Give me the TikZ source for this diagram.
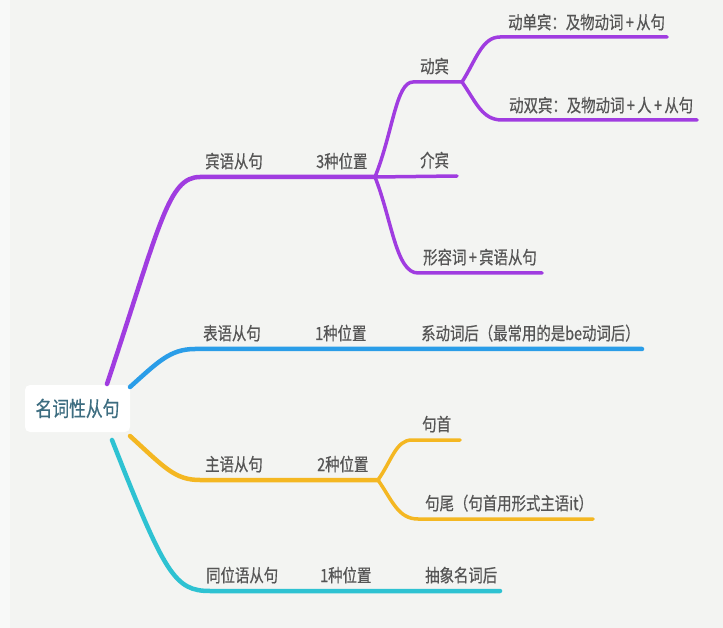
\documentclass[tikz,border=0pt]{standalone}
\usepackage{fontspec}
\newfontfamily\cjk{Noto Sans CJK SC}[FakeBold=0.6]
\definecolor{bgc}{HTML}{F3F4F2}
\definecolor{bgl}{HTML}{F8F9F8}
\definecolor{purp}{HTML}{A03CE0}
\definecolor{blu}{HTML}{2A9DE8}
\definecolor{org}{HTML}{F4B722}
\definecolor{cya}{HTML}{2EC2D2}
\definecolor{txt}{HTML}{555555}
\definecolor{roottxt}{HTML}{3D6D80}
\newcommand\sqz[1]{\scalebox{0.8}[1]{#1}}
\tikzset{
  lbl/.style={font=\cjk\fontsize{18}{21}\selectfont, text=txt, inner sep=0pt, anchor=base west},
  mainline/.style={line width=4.5pt, line cap=round},
  subline/.style={line width=3.5pt, line cap=round},
}
\begin{document}
\begin{tikzpicture}[x=1pt,y=-1pt]
\useasboundingbox (0,0) rectangle (723,628);
\fill[bgc] (0,0) rectangle (723,628);
\fill[bgl] (0,0) rectangle (10,628);

% root
\node[fill=white, rounded corners=5pt, minimum width=105pt, minimum height=47pt, inner sep=0pt,
      font=\cjk\fontsize{21}{25}\selectfont, text=roottxt] (root) at (77.5,408.5) {\sqz{名词性从句}};

% coordinates
\coordinate (pS) at (107,384);
\coordinate (pA) at (200,177);
\coordinate (pJ) at (375,177);
\coordinate (dbS) at (413,82);
\coordinate (dbJ) at (462,82);
\coordinate (d1S) at (500,37);
\coordinate (d1E) at (667,37);
\coordinate (d2S) at (502,120);
\coordinate (d2E) at (697,120);
\coordinate (jbE) at (457,176);
\coordinate (xrS) at (418,273);
\coordinate (xrE) at (542,273);

\coordinate (bS) at (130,387);
\coordinate (bA) at (195,349);
\coordinate (bE) at (642,349);

\coordinate (oS) at (130,436);
\coordinate (oA) at (200,480);
\coordinate (oJ) at (378,480);
\coordinate (jsS) at (412,440);
\coordinate (jsE) at (460,440);
\coordinate (jwS) at (418,519);
\coordinate (jwE) at (593,519);

\coordinate (cS) at (112,440);
\coordinate (cA) at (210,591);
\coordinate (cE) at (500,591);

% purple
\draw[mainline, purp] (pS) .. controls (160,225) and (168,177) .. (pA) -- (pJ);
\draw[subline, purp] (pJ) .. controls (393,132) and (396,82) .. (dbS) -- (dbJ);
\draw[subline, purp] (dbJ) .. controls (476,60) and (482,37) .. (d1S) -- (d1E);
\draw[subline, purp] (dbJ) .. controls (476,102) and (482,120) .. (d2S) -- (d2E);
\draw[subline, purp] (pJ) -- (jbE);
\draw[subline, purp] (pJ) .. controls (392,220) and (396,273) .. (xrS) -- (xrE);

% blue
\draw[mainline, blu] (bS) .. controls (158,362) and (170,349) .. (bA) -- (bE);

% orange
\draw[mainline, org] (oS) .. controls (165,468) and (175,480) .. (oA) -- (oJ);
\draw[subline, org] (oJ) .. controls (392,460) and (396,440) .. (jsS) -- (jsE);
\draw[subline, org] (oJ) .. controls (392,500) and (398,519) .. (jwS) -- (jwE);

% cyan
\draw[mainline, cya] (cS) .. controls (165,575) and (175,591) .. (cA) -- (cE);

% labels
\node[lbl] (t1) at (205,168) {\sqz{宾语从句}};
\node[lbl] (t2) at (316,168) {\sqz{3种位置}};
\node[lbl] (t3) at (420,73) {\sqz{动宾}};
\node[lbl] (t4) at (508,29) {\sqz{动单宾：及物动词\,+\,从句}};
\node[lbl] (t5) at (509,112) {\sqz{动双宾：及物动词\,+\,人\,+\,从句}};
\node[lbl] (t6) at (420,167) {\sqz{介宾}};
\node[lbl] (t7) at (423,264) {\sqz{形容词\,+\,宾语从句}};

\node[lbl] (t8) at (203,340) {\sqz{表语从句}};
\node[lbl] (t9) at (315,340) {\sqz{1种位置}};
\node[lbl] (t10) at (421,340) {\sqz{系动词后（最常用的是be动词后）}};

\node[lbl] (t11) at (205,471) {\sqz{主语从句}};
\node[lbl] (t12) at (317,471) {\sqz{2种位置}};
\node[lbl] (t13) at (422,431) {\sqz{句首}};
\node[lbl] (t14) at (425,510) {\sqz{句尾（句首用形式主语it）}};

\node[lbl] (t15) at (206,582) {\sqz{同位语从句}};
\node[lbl] (t16) at (320,582) {\sqz{1种位置}};
\node[lbl] (t17) at (425,582) {\sqz{抽象名词后}};
\end{tikzpicture}
\end{document}
